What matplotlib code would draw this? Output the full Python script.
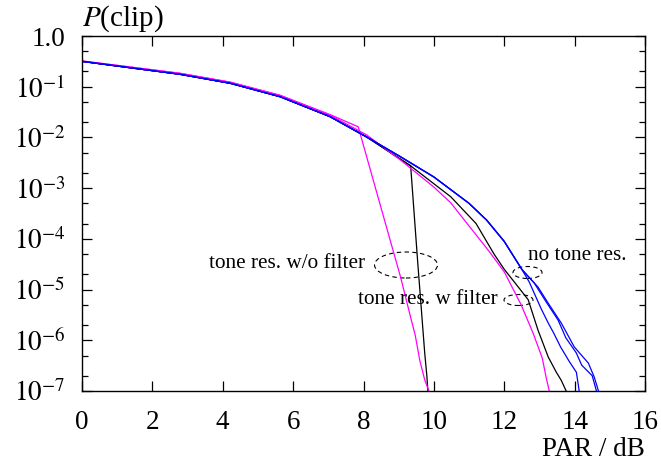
import matplotlib
matplotlib.use("Agg")
import matplotlib.pyplot as plt
from matplotlib.patches import Ellipse
from matplotlib.ticker import LogLocator, FixedLocator, NullFormatter, FixedFormatter

plt.rcParams['font.family'] = ['Liberation Serif', 'DejaVu Serif']
plt.rcParams['mathtext.fontset'] = 'stix'

# ---- data (PAR in dB, clipping probability) ----
blue_x = [0, 1.36, 2.78, 4.21, 5.63, 7.05, 8.09, 9, 10, 11, 11.5, 12, 12.5]
blue_p = [0.316, 0.237, 0.176, 0.117, 0.0635, 0.0257, 0.0102,
          4.37e-3, 1.66e-3, 5.01e-4, 2.34e-4, 8.9e-5, 2.5e-5]

blueA_x = [12.71, 13.05, 13.25, 13.4, 13.6, 13.85, 14.05, 14.13]
blueA_p = [1.41e-5, 4.17e-6, 2.19e-6, 1.41e-6, 7.41e-7, 3.8e-7, 2.34e-7, 1e-7]
blueB_x = [12.85, 13.2, 13.53, 13.75, 14.05, 14.2, 14.5, 14.62]
blueB_p = [1.35e-5, 5.6e-6, 2.5e-6, 1.12e-6, 5.6e-7, 3.24e-7, 2.0e-7, 1e-7]
blueC_x = [12.96, 13.25, 13.62, 13.99, 14.39, 14.56, 14.7]
blueC_p = [1.12e-5, 5.37e-6, 2.19e-6, 7.4e-7, 3.55e-7, 1.86e-7, 8.9e-8]

mag_grad_x = [0, 1.36, 2.78, 4.21, 5.63, 7.05, 8.09, 9.06, 10, 10.48, 11.54, 12.0, 12.48, 12.82, 13.08, 13.19, 13.28]
mag_grad_p = [0.322, 0.245, 0.184, 0.123, 0.0676, 0.0275, 0.0112, 3.55e-3, 1.05e-3, 5.13e-4,
              6.03e-5, 2.24e-5, 5.01e-6, 1.38e-6, 4.47e-7, 1.86e-7, 1e-7]

mag_steep_x = [0, 1.36, 2.78, 4.21, 5.63, 7.05, 7.85, 9.06, 9.34, 9.47, 9.6, 9.74, 9.86]
mag_steep_p = [0.322, 0.245, 0.184, 0.123, 0.0676, 0.0282, 0.0162, 1.7e-5, 2.82e-6, 1.26e-6,
               4.0e-7, 1.66e-7, 1e-7]

blk_grad_x = [0, 1.36, 2.78, 4.21, 5.63, 7.05, 8.09, 9.34, 10.48, 11.2, 11.71, 12.0, 12.4, 12.68, 12.96, 13.25, 13.48, 13.62, 13.76]
blk_grad_p = [0.316, 0.237, 0.176, 0.117, 0.0635, 0.0257, 0.0102, 2.75e-3, 6.76e-4, 2.0e-4, 5.01e-5,
              2.51e-5, 1.12e-5, 6.31e-6, 1.58e-6, 4.68e-7, 2.34e-7, 1.62e-7, 1e-7]

blk_steep_x = [0, 1.36, 2.78, 4.21, 5.63, 7.05, 8.09, 9.34, 9.54, 9.74, 9.8, 9.83]
blk_steep_p = [0.316, 0.237, 0.176, 0.117, 0.0635, 0.0257, 0.0102, 2.75e-3, 3.5e-5, 5.6e-7, 2.0e-7, 1e-7]

x_ticks = [0, 2, 4, 6, 8, 10, 12, 14, 16]
y_ticks = [1e-7, 1e-6, 1e-5, 1e-4, 1e-3, 1e-2, 1e-1, 1.0]
y_ticklabels = [r'$10^{-7}$', r'$10^{-6}$', r'$10^{-5}$', r'$10^{-4}$',
                r'$10^{-3}$', r'$10^{-2}$', r'$10^{-1}$', '1.0']

fig = plt.figure(figsize=(6.61, 4.68), dpi=100)
ax = fig.add_axes([82/661, 1 - 391/468, (645 - 82)/661, (391 - 36)/468])

lw = 0.9
ax.plot(blk_grad_x, blk_grad_p, color='black', lw=lw)
ax.plot(blk_steep_x, blk_steep_p, color='black', lw=lw)
ax.plot(mag_grad_x, mag_grad_p, color='#ff00ff', lw=lw)
ax.plot(mag_steep_x, mag_steep_p, color='#ff00ff', lw=lw)
for bx, bp in [(blueA_x, blueA_p), (blueB_x, blueB_p), (blueC_x, blueC_p)]:
    ax.plot(blue_x + bx, blue_p + bp, color='#0000ff', lw=lw)

ax.set_yscale('log')
ax.set_xlim(0, 16)
ax.set_ylim(1e-7, 1.0)

ax.xaxis.set_major_locator(FixedLocator(x_ticks))
ax.yaxis.set_major_locator(FixedLocator(y_ticks))
ax.yaxis.set_major_formatter(FixedFormatter(y_ticklabels))
ax.yaxis.set_minor_locator(LogLocator(base=10, subs=(2.0, 5.0), numticks=20))
ax.yaxis.set_minor_formatter(NullFormatter())

ax.tick_params(which='both', direction='in', top=True, right=True, labelsize=19.5)
ax.tick_params(which='major', length=7, width=0.9)
ax.tick_params(which='minor', length=4, width=0.9)
ax.tick_params(axis='x', pad=14)
ax.tick_params(axis='y', pad=12)
for s in ax.spines.values():
    s.set_linewidth(1.0)

ax.text(0.0, 1.005, r'$P$(clip)', transform=ax.transAxes, ha='left', va='bottom', fontsize=21)
ax.text(1.0, -0.13, 'PAR / dB', transform=ax.transAxes, ha='right', va='top', fontsize=19.5)

# annotations
ax.text((365 - 82)/563, 1 - (264 - 36)/355, 'tone res. w/o filter', transform=ax.transAxes,
        ha='right', va='center', fontsize=15.3)
ax.text((528 - 82)/563, 1 - (256 - 36)/355, 'no tone res.', transform=ax.transAxes,
        ha='left', va='center', fontsize=15.3)
ax.text((498 - 82)/563, 1 - (299 - 36)/355, 'tone res. w filter', transform=ax.transAxes,
        ha='right', va='center', fontsize=15.3)

for cx, cy, w, h in [(406, 265, 63, 26), (527.5, 272.5, 29, 12), (518.5, 300, 29, 11)]:
    e = Ellipse(((cx - 82)/563, 1 - (cy - 36)/355), w/563, h/355, transform=ax.transAxes,
                fill=False, ls=(0, (4, 3)), lw=0.8, color='black')
    ax.add_patch(e)

fig.savefig('out.png', dpi=100)
